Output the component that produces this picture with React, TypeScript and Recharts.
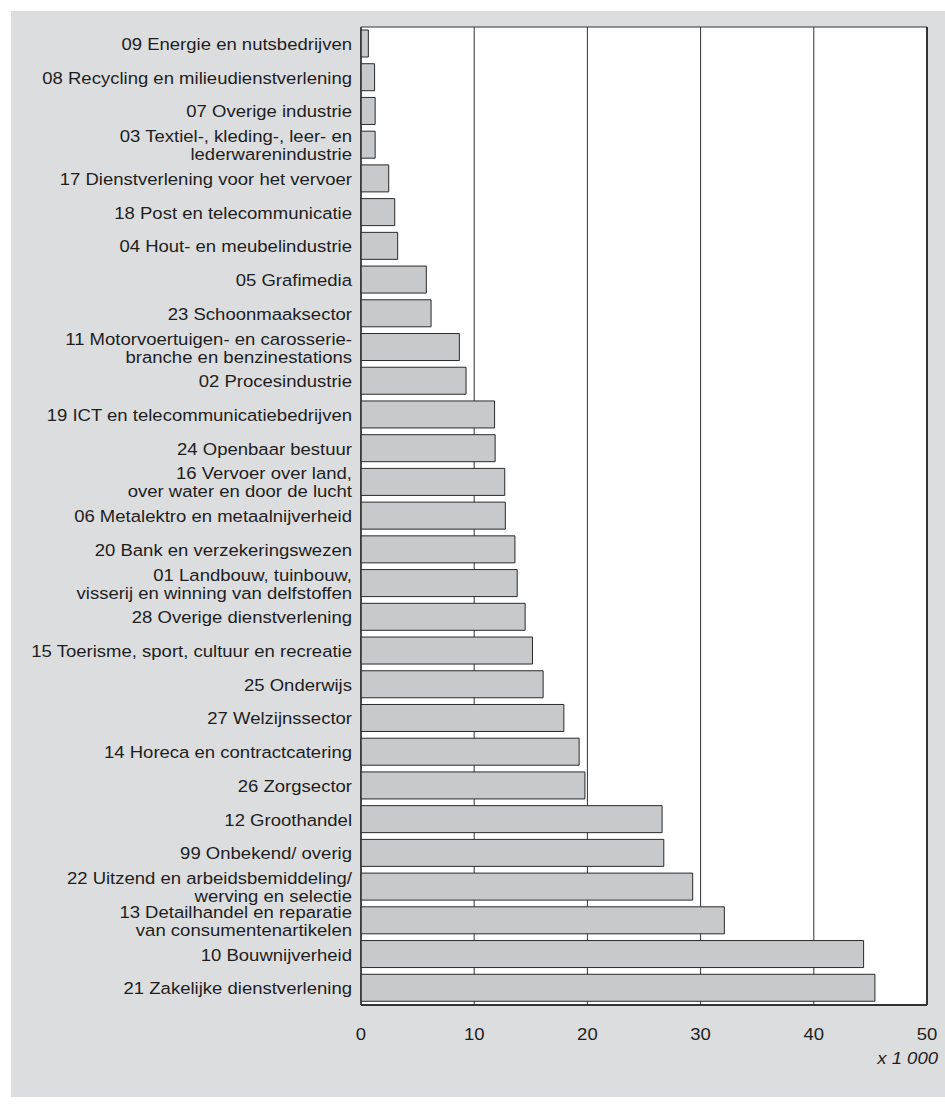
import React from 'react';
import { BarChart, Bar, XAxis, YAxis, CartesianGrid, ReferenceArea, ReferenceLine } from 'recharts';

const categories: string[] = [
  '09 Energie en nutsbedrijven',
  '08 Recycling en milieudienstverlening',
  '07 Overige industrie',
  '03 Textiel-, kleding-, leer- en\nlederwarenindustrie',
  '17 Dienstverlening voor het vervoer',
  '18 Post en telecommunicatie',
  '04 Hout- en meubelindustrie',
  '05 Grafimedia',
  '23 Schoonmaaksector',
  '11 Motorvoertuigen- en carosserie-\nbranche en benzinestations',
  '02 Procesindustrie',
  '19 ICT en telecommunicatiebedrijven',
  '24 Openbaar bestuur',
  '16 Vervoer over land,\nover water en door de lucht',
  '06 Metalektro en metaalnijverheid',
  '20 Bank en verzekeringswezen',
  '01 Landbouw, tuinbouw,\nvisserij en winning van delfstoffen',
  '28 Overige dienstverlening',
  '15 Toerisme, sport, cultuur en recreatie',
  '25 Onderwijs',
  '27 Welzijnssector',
  '14 Horeca en contractcatering',
  '26 Zorgsector',
  '12 Groothandel',
  '99 Onbekend/ overig',
  '22 Uitzend en arbeidsbemiddeling/\nwerving en selectie',
  '13 Detailhandel en reparatie\nvan consumentenartikelen',
  '10 Bouwnijverheid',
  '21 Zakelijke dienstverlening',
];

const values: number[] = [
  0.65, 1.2, 1.25, 1.25, 2.45, 2.98, 3.24, 5.77, 6.19, 8.69, 9.28, 11.8, 11.85, 12.7, 12.75,
  13.6, 13.8, 14.5, 15.15, 16.09, 17.92, 19.27, 19.78, 26.6, 26.75, 29.3, 32.1, 44.4, 45.4,
];

const xTicks: number[] = [0, 10, 20, 30, 40, 50];
const unitLabel = 'x 1 000';

const data = categories.map((name, i) => ({ name, value: values[i] }));

const FONT = '"Liberation Sans", Arial, Helvetica, sans-serif';
const TEXT = '#1e1e1e';
const SX = 1.09;
const FS = 17;

const YTick = (props: any) => {
  const { x, y, payload } = props;
  const lines = String(payload.value).split('\n');
  const lh = 18;
  return (
    <g transform={`translate(${x},${y}) scale(${SX},1)`}>
      <text textAnchor="end" fontSize={FS} fill={TEXT} fontFamily={FONT}>
        {lines.map((l, i) => (
          <tspan key={i} x={0} y={(i - (lines.length - 1) / 2) * lh} dy="0.36em">
            {l}
          </tspan>
        ))}
      </text>
    </g>
  );
};

const XTick = (props: any) => {
  const { x, y, payload } = props;
  return (
    <g transform={`translate(${x},${y}) scale(${SX},1)`}>
      <text textAnchor="middle" fontSize={FS} fill={TEXT} fontFamily={FONT} y={0} dy="0.36em">
        {payload.value}
      </text>
    </g>
  );
};

const UnitLabel = (props: any) => {
  const vb = props.viewBox || {};
  const x = vb.x + vb.width + 11;
  const y = vb.y + 53;
  return (
    <g transform={`translate(${x},${y}) scale(${SX},1)`}>
      <text textAnchor="end" fontSize={FS} fontStyle="italic" fill={TEXT} fontFamily={FONT} dy="0.36em">
        {unitLabel}
      </text>
    </g>
  );
};

export default function App() {
  return (
    <div style={{ position: 'absolute', left: 0, top: 0, width: 945, height: 1109, background: '#ffffff' }}>
      <div style={{ position: 'absolute', left: 11, top: 11, width: 934, height: 1086, background: '#dcdddf' }} />
      <div style={{ position: 'absolute', left: 0, top: 0 }}>
        <BarChart
          width={945}
          height={1109}
          data={data}
          layout="vertical"
          margin={{ top: 27, right: 18, bottom: 74, left: 0 }}
          barSize={27}
        >
          <CartesianGrid horizontal={false} vertical={true} stroke="#333333" strokeWidth={1} fill="#ffffff" fillOpacity={1} />
          <XAxis
            type="number"
            domain={[0, 50]}
            ticks={xTicks}
            interval={0}
            height={30}
            tickSize={0}
            tickMargin={29}
            tick={<XTick />}
            axisLine={{ stroke: '#333333', strokeWidth: 2 }}
            tickLine={false}
            label={<UnitLabel />}
          />
          <YAxis
            type="category"
            dataKey="name"
            width={361}
            interval={0}
            tickSize={0}
            tickMargin={9}
            tick={<YTick />}
            axisLine={{ stroke: '#333333', strokeWidth: 1 }}
            tickLine={false}
          />
          <ReferenceArea x1={0} x2={50} fill="none" stroke="#333333" strokeWidth={1} />
          <ReferenceLine x={50} stroke="#333333" strokeWidth={2} />
          <Bar dataKey="value" fill="#c8c9cb" stroke="#2a2a2a" strokeWidth={1} isAnimationActive={false} />
        </BarChart>
      </div>
    </div>
  );
}
